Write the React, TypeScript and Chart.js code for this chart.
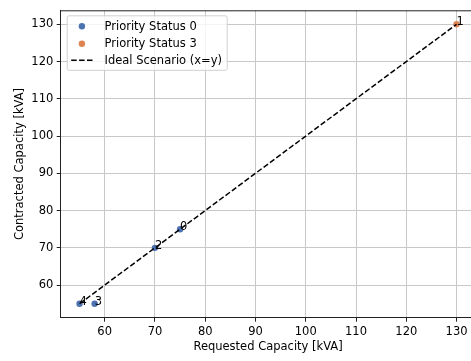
import React, { useEffect, useRef } from "react";
import { Chart, registerables } from "chart.js";

Chart.register(...registerables);

// ---- data ----
const status0Labels = ["0", "2", "3", "4"];
const status0Requested = [75, 70, 58, 55];
const status0Contracted = [75, 70, 55, 55];

const status3Labels = ["1"];
const status3Requested = [130];
const status3Contracted = [130];

const idealX = [55, 130];
const idealY = [55, 130];

const xTicks = [60, 70, 80, 90, 100, 110, 120, 130];
const yTicks = [60, 70, 80, 90, 100, 110, 120, 130];
const axisMin = 51.25;
const axisMax = 133.75;

const legendLabels = ["Priority Status 0", "Priority Status 3", "Ideal Scenario (x=y)"];
const xTitle = "Requested Capacity [kVA]";
const yTitle = "Contracted Capacity [kVA]";

const BLUE = "#4C72B0";
const ORANGE = "#DD8452";
const FONT = "'DejaVu Sans', sans-serif";
const FS = 11.5;

const annotatePlugin = {
  id: "annotate",
  afterDatasetsDraw(chart: any) {
    const ctx = chart.ctx;
    ctx.save();
    ctx.font = `${FS}px ${FONT}`;
    ctx.fillStyle = "#000";
    ctx.textAlign = "left";
    ctx.textBaseline = "alphabetic";
    chart.data.datasets.forEach((ds: any, i: number) => {
      if (!ds.pointLabels) return;
      const meta = chart.getDatasetMeta(i);
      meta.data.forEach((el: any, j: number) => {
        ctx.fillText(ds.pointLabels[j], el.x, el.y + 1);
      });
    });
    ctx.restore();
  },
};

const framePlugin = {
  id: "frame",
  afterDatasetsDraw(chart: any) {
    const { ctx, chartArea: a } = chart;
    ctx.save();
    ctx.strokeStyle = "#222";
    ctx.lineWidth = 1;
    ctx.beginPath();
    ctx.moveTo(a.left, a.top + 0.5);
    ctx.lineTo(a.right, a.top + 0.5);
    ctx.lineTo(a.right, a.bottom);
    ctx.stroke();
    ctx.restore();
  },
};

const legendPlugin = {
  id: "mplLegend",
  afterDraw(chart: any) {
    const { ctx, chartArea: a } = chart;
    const bx = a.left + 6;
    const by = a.top + 5;
    const bw = 160;
    const bh = 54.5;
    ctx.save();
    ctx.beginPath();
    (ctx as any).roundRect(bx + 0.5, by + 0.5, bw, bh, 2);
    ctx.fillStyle = "rgba(255,255,255,0.8)";
    ctx.fill();
    ctx.strokeStyle = "#d0d0d0";
    ctx.lineWidth = 1;
    ctx.stroke();

    const rows = [by + 11, by + 28.4, by + 45];
    const mx = bx + 15.2;
    const tx = bx + 37.8;
    const colors = [BLUE, ORANGE];
    for (let i = 0; i < 2; i++) {
      ctx.beginPath();
      ctx.arc(mx, rows[i], 3.2, 0, Math.PI * 2);
      ctx.fillStyle = colors[i];
      ctx.fill();
    }
    ctx.beginPath();
    ctx.setLineDash([5.5, 2.4]);
    ctx.strokeStyle = "#000";
    ctx.lineWidth = 1.5;
    ctx.moveTo(bx + 4.5, rows[2]);
    ctx.lineTo(bx + 27, rows[2]);
    ctx.stroke();
    ctx.setLineDash([]);

    ctx.font = `${FS}px ${FONT}`;
    ctx.fillStyle = "#000";
    ctx.textAlign = "left";
    ctx.textBaseline = "middle";
    legendLabels.forEach((t, i) => ctx.fillText(t, tx, rows[i] + 0.5));
    ctx.restore();
  },
};

export default function App() {
  const ref = useRef<HTMLCanvasElement | null>(null);

  useEffect(() => {
    if (!ref.current) return;
    const gridCommon = {
      color: "#c8c8c8",
      lineWidth: 1,
      tickColor: "#222",
      tickLength: 4,
      tickWidth: 1,
    };
    const chart = new Chart(ref.current, {
      type: "scatter",
      data: {
        datasets: [
          {
            label: legendLabels[2],
            data: idealX.map((x, i) => ({ x, y: idealY[i] })),
            showLine: true,
            borderColor: "#000",
            borderWidth: 1.5,
            borderDash: [5.5, 2.4],
            pointRadius: 0,
            fill: false,
            order: 0,
          } as any,
          {
            label: legendLabels[0],
            data: status0Requested.map((x, i) => ({ x, y: status0Contracted[i] })),
            backgroundColor: BLUE,
            borderColor: BLUE,
            borderWidth: 0,
            pointRadius: 3.2,
            pointLabels: status0Labels,
            order: 1,
          } as any,
          {
            label: legendLabels[1],
            data: status3Requested.map((x, i) => ({ x, y: status3Contracted[i] })),
            backgroundColor: ORANGE,
            borderColor: ORANGE,
            borderWidth: 0,
            pointRadius: 3.2,
            pointLabels: status3Labels,
            order: 2,
          } as any,
        ],
      },
      options: {
        animation: false,
        responsive: false,
        devicePixelRatio: 1,
        layout: { padding: { left: 0, top: 8.3, right: 9.6, bottom: 0 } },
        plugins: {
          legend: { display: false },
          tooltip: { enabled: false },
        },
        scales: {
          x: {
            type: "linear",
            position: "bottom",
            min: axisMin,
            max: axisMax,
            afterBuildTicks: (s: any) => {
              s.ticks = xTicks.map((v) => ({ value: v }));
            },
            afterFit: (s: any) => {
              s.height = 43.3;
            },
            grid: gridCommon,
            border: { color: "#222", width: 1 },
            ticks: {
              color: "#000",
              font: { family: FONT, size: FS },
              padding: 3,
              maxRotation: 0,
            },
            title: {
              display: true,
              text: xTitle,
              color: "#000",
              font: { family: FONT, size: FS },
              padding: { top: 2, bottom: 7.4 },
            },
          },
          y: {
            type: "linear",
            min: axisMin,
            max: axisMax,
            afterBuildTicks: (s: any) => {
              s.ticks = yTicks.map((v) => ({ value: v }));
            },
            afterFit: (s: any) => {
              s.width = 60.7;
            },
            grid: gridCommon,
            border: { color: "#222", width: 1 },
            ticks: {
              color: "#000",
              font: { family: FONT, size: FS },
              padding: 3.4,
            },
            title: {
              display: true,
              text: yTitle,
              color: "#000",
              font: { family: FONT, size: FS },
              padding: { top: 13.4, bottom: 2 },
            },
          },
        },
      } as any,
      plugins: [annotatePlugin, framePlugin, legendPlugin],
    });
    return () => chart.destroy();
  }, []);

  return (
    <div
      style={{
        position: "fixed",
        left: 0,
        top: 0,
        width: 471,
        height: 361,
        overflow: "hidden",
        background: "#fff",
      }}
    >
      <canvas ref={ref} width={485} height={361} style={{ display: "block" }} />
    </div>
  );
}
